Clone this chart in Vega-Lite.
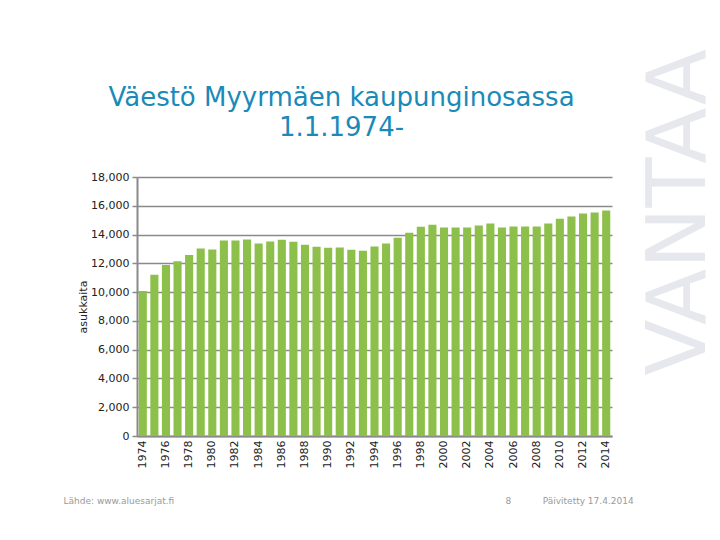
{
  "$schema": "https://vega.github.io/schema/vega-lite/v6.json",
  "width": 475,
  "height": 259,
  "autosize": {"type": "none"},
  "padding": {"left": 137, "top": 177, "right": 108, "bottom": 104},
  "background": "white",
  "config": {"view": {"stroke": null}, "font": "DejaVu Sans"},
  "title": {
    "text": ["Väestö Myyrmäen kaupunginosassa", "1.1.1974-"],
    "font": "DejaVu Sans",
    "fontSize": 26,
    "fontWeight": "normal",
    "color": "#1a8ab8",
    "lineHeight": 30,
    "anchor": "middle",
    "frame": "group",
    "dx": -33,
    "dy": 124,
    "offset": 32
  },
  "data": {
    "values": [
      {"year": 1974, "value": 10070},
      {"year": 1975, "value": 11200},
      {"year": 1976, "value": 11890},
      {"year": 1977, "value": 12140},
      {"year": 1978, "value": 12580},
      {"year": 1979, "value": 13030},
      {"year": 1980, "value": 12970},
      {"year": 1981, "value": 13590},
      {"year": 1982, "value": 13590},
      {"year": 1983, "value": 13660},
      {"year": 1984, "value": 13380},
      {"year": 1985, "value": 13520},
      {"year": 1986, "value": 13640},
      {"year": 1987, "value": 13500},
      {"year": 1988, "value": 13290},
      {"year": 1989, "value": 13150},
      {"year": 1990, "value": 13080},
      {"year": 1991, "value": 13100},
      {"year": 1992, "value": 12940},
      {"year": 1993, "value": 12870},
      {"year": 1994, "value": 13170},
      {"year": 1995, "value": 13380},
      {"year": 1996, "value": 13770},
      {"year": 1997, "value": 14120},
      {"year": 1998, "value": 14550},
      {"year": 1999, "value": 14680},
      {"year": 2000, "value": 14490},
      {"year": 2001, "value": 14490},
      {"year": 2002, "value": 14490},
      {"year": 2003, "value": 14630},
      {"year": 2004, "value": 14770},
      {"year": 2005, "value": 14490},
      {"year": 2006, "value": 14560},
      {"year": 2007, "value": 14560},
      {"year": 2008, "value": 14560},
      {"year": 2009, "value": 14770},
      {"year": 2010, "value": 15100},
      {"year": 2011, "value": 15260},
      {"year": 2012, "value": 15470},
      {"year": 2013, "value": 15540},
      {"year": 2014, "value": 15680}
    ]
  },
  "layer": [
    {
      "mark": {"type": "bar", "color": "#8dc04b"},
      "encoding": {
        "x": {
          "field": "year",
          "type": "ordinal",
          "scale": {"paddingInner": 0.3, "paddingOuter": 0.15},
          "axis": {
            "orient": "bottom",
            "values": [1974,1976,1978,1980,1982,1984,1986,1988,1990,1992,1994,1996,1998,2000,2002,2004,2006,2008,2010,2012,2014],
            "labelAngle": -90,
            "labelFontSize": 11,
            "labelColor": "#222222",
            "labelPadding": 4,
            "ticks": false,
            "domainColor": "#8a8a8a",
            "domainWidth": 2,
            "title": "Lähde: www.aluesarjat.fi",
            "titleFontSize": 9,
            "titleFontWeight": "normal",
            "titleColor": "#9a9a9a",
            "titleAlign": "left",
            "titleBaseline": "middle",
            "titleX": -74,
            "titleY": 64
          }
        },
        "y": {
          "field": "value",
          "type": "quantitative",
          "scale": {"domain": [0, 18000], "nice": false},
          "axis": {
            "orient": "left",
            "values": [0,2000,4000,6000,8000,10000,12000,14000,16000,18000],
            "format": ",.0f",
            "labelFontSize": 11,
            "labelColor": "#222222",
            "labelPadding": 3,
            "tickColor": "#8a8a8a",
            "tickSize": 5,
            "tickWidth": 1.5,
            "domainColor": "#8a8a8a",
            "domainWidth": 2,
            "grid": true,
            "gridColor": "#8a8a8a",
            "gridWidth": 1.5,
            "title": "asukkaita",
            "titleFontSize": 11,
            "titleFontWeight": "normal",
            "titleColor": "#222222",
            "titlePadding": 2
          }
        }
      }
    },
    {
      "mark": {"type": "point", "opacity": 0},
      "encoding": {
        "x": {
          "field": "year",
          "type": "ordinal",
          "axis": {
            "orient": "top",
            "labels": false,
            "ticks": false,
            "domain": false,
            "grid": false,
            "title": "8\u00a0\u00a0\u00a0\u00a0\u00a0\u00a0\u00a0\u00a0\u00a0\u00a0\u00a0Päivitetty 17.4.2014",
            "titleFontSize": 9,
            "titleFontWeight": "normal",
            "titleColor": "#9a9a9a",
            "titleAlign": "left",
            "titleBaseline": "middle",
            "titleX": 368,
            "titleY": 323
          }
        },
        "y": {
          "field": "value",
          "type": "quantitative",
          "scale": {"domain": [0, 18000], "nice": false},
          "axis": {
            "orient": "right",
            "labels": false,
            "ticks": false,
            "domain": false,
            "grid": false,
            "title": "VANTAA",
            "titleFont": "DejaVu Sans",
            "titleFontSize": 82,
            "titleFontWeight": "normal",
            "titleColor": "#e6e8ee",
            "titleAngle": 270,
            "titleAlign": "center",
            "titleBaseline": "middle",
            "titleX": 67,
            "titleY": 35
          }
        }
      }
    }
  ],
  "resolve": {"scale": {"x": "independent", "y": "independent"}, "axis": {"x": "independent", "y": "independent"}}
}
